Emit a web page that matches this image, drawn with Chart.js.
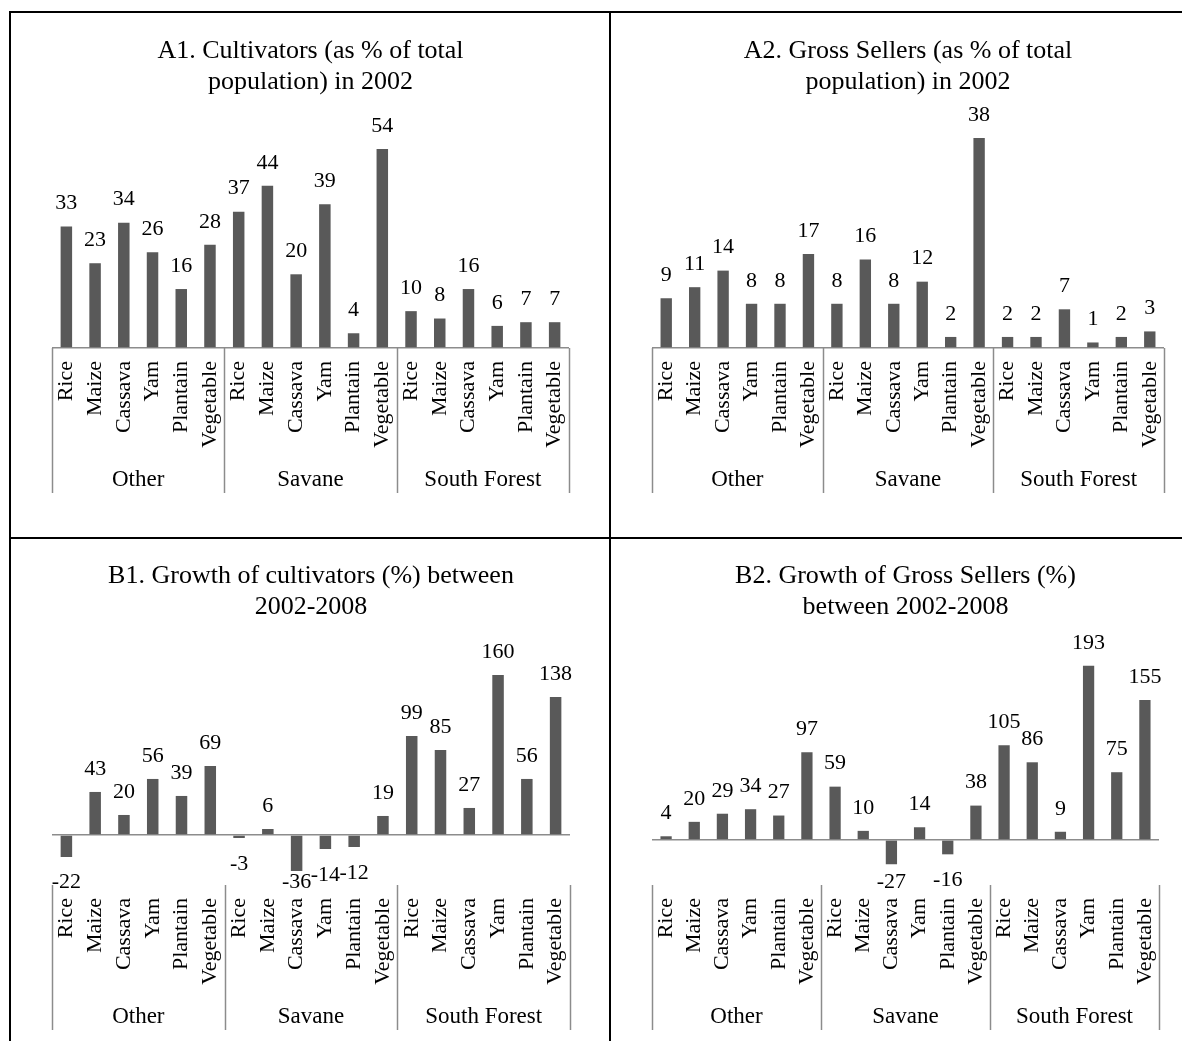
<!DOCTYPE html>
<html>
<head>
<meta charset="utf-8">
<script src="https://cdn.jsdelivr.net/npm/chart.js@4.4.1/dist/chart.umd.min.js"></script>
<style>
  html, body { margin: 0; padding: 0; background: #fff; }
  body { width: 1182px; height: 1041px; position: relative; overflow: hidden; }
  .rule { position: absolute; background: #000; }
  .panel { position: absolute; }
</style>
</head>
<body>
<div class="rule" style="left:9px;top:11px;width:2px;height:1030px"></div>
<div class="rule" style="left:9px;top:11px;width:1173px;height:2px"></div>
<div class="rule" style="left:609px;top:11px;width:2px;height:1030px"></div>
<div class="rule" style="left:9px;top:537px;width:1173px;height:2px"></div>

<div class="panel" style="left:11px;top:13px;width:598px;height:524px"><canvas id="chartA1"></canvas></div>
<div class="panel" style="left:611px;top:13px;width:571px;height:524px"><canvas id="chartA2"></canvas></div>
<div class="panel" style="left:11px;top:539px;width:598px;height:502px"><canvas id="chartB1"></canvas></div>
<div class="panel" style="left:611px;top:539px;width:571px;height:502px"><canvas id="chartB2"></canvas></div>

<script>
// Crops within each agro-ecological zone
const crops = ['Rice', 'Maize', 'Cassava', 'Yam', 'Plantain', 'Vegetable'];
const zones = ['Other', 'Savane', 'South Forest'];

// Values in zone order: Other, Savane, South Forest
const cultivatorsShare2002 = [33, 23, 34, 26, 16, 28, 37, 44, 20, 39, 4, 54, 10, 8, 16, 6, 7, 7];
const grossSellersShare2002 = [9, 11, 14, 8, 8, 17, 8, 16, 8, 12, 2, 38, 2, 2, 7, 1, 2, 3];
const cultivatorsGrowth = [-22, 43, 20, 56, 39, 69, -3, 6, -36, -14, -12, 19, 99, 85, 27, 160, 56, 138];
const grossSellersGrowth = [4, 20, 29, 34, 27, 97, 59, 10, -27, 14, -16, 38, 105, 86, 9, 193, 75, 155];

const titleA1 = ['A1. Cultivators (as % of total', 'population) in 2002'];
const titleA2 = ['A2. Gross Sellers (as % of total', 'population) in 2002'];
const titleB1 = ['B1. Growth of cultivators (%) between', '2002-2008'];
const titleB2 = ['B2. Growth of Gross Sellers (%)', 'between 2002-2008'];

const categoryLabels = zones.flatMap(() => crops);

const FONT = '"Liberation Serif", "Times New Roman", serif';
const BAR = '#595959';
const AXIS = '#8c8c8c';
const LABEL_BLOCK = 145;

Chart.defaults.font.family = FONT;
Chart.defaults.color = '#000';

// Value labels above positive bars and below negative ones
const valueLabels = {
  id: 'valueLabels',
  afterDatasetsDraw(chart) {
    const { ctx, chartArea } = chart;
    const meta = chart.getDatasetMeta(0);
    const values = chart.data.datasets[0].data;
    ctx.save();
    ctx.font = '22px ' + FONT;
    ctx.fillStyle = '#000';
    ctx.textAlign = 'center';
    ctx.textBaseline = 'middle';
    meta.data.forEach((bar, i) => {
      const v = values[i];
      const y = v >= 0 ? bar.y - 23 : Math.min(bar.y + 26, chartArea.bottom - 3);
      ctx.fillText(String(v), bar.x, y);
    });
    ctx.restore();
  }
};

// Second category level: zone separators and zone names under the crop labels
const zoneAxis = {
  id: 'zoneAxis',
  afterDraw(chart) {
    const { ctx, chartArea, scales } = chart;
    const x = scales.x;
    const n = chart.data.labels.length;
    const per = n / zones.length;
    const step = (x.right - x.left) / n;
    const top = chartArea.bottom;
    ctx.save();
    ctx.strokeStyle = AXIS;
    ctx.lineWidth = 1.5;
    for (let g = 0; g <= zones.length; g++) {
      const px = Math.round(x.left + g * per * step) + 0.5;
      ctx.beginPath();
      ctx.moveTo(px, top);
      ctx.lineTo(px, top + LABEL_BLOCK);
      ctx.stroke();
    }
    ctx.font = '23px ' + FONT;
    ctx.fillStyle = '#000';
    ctx.textAlign = 'center';
    ctx.textBaseline = 'middle';
    zones.forEach((z, g) => {
      const cx = x.left + (g + 0.5) * per * step;
      ctx.fillText(z, cx, top + 132);
    });
    ctx.restore();
  }
};

function makeChart(id, title, values, yMin, yMax, pad, titlePad) {
  return new Chart(document.getElementById(id), {
    type: 'bar',
    data: {
      labels: categoryLabels,
      datasets: [{
        data: values,
        backgroundColor: BAR,
        borderWidth: 0,
        barPercentage: 0.4,
        categoryPercentage: 1.0
      }]
    },
    options: {
      responsive: true,
      maintainAspectRatio: false,
      animation: false,
      layout: { padding: pad },
      plugins: {
        legend: { display: false },
        tooltip: { enabled: false },
        title: {
          display: true,
          text: title,
          color: '#000',
          font: { size: 26, weight: 'normal', lineHeight: 1.19 },
          padding: titlePad
        }
      },
      scales: {
        x: {
          grid: { display: false, drawTicks: false },
          border: { display: false },
          ticks: {
            autoSkip: false,
            minRotation: 90,
            maxRotation: 90,
            padding: 13,
            font: { size: 22 },
            color: '#000'
          },
          afterFit(scale) {
            scale.height = LABEL_BLOCK;
            scale.paddingLeft = 0;
            scale.paddingRight = 0;
          }
        },
        y: {
          min: yMin,
          max: yMax,
          border: { display: false },
          ticks: { display: false },
          grid: {
            drawTicks: false,
            lineWidth: 1.5,
            color: (ctx) => (ctx.tick && ctx.tick.value === 0 ? AXIS : 'rgba(0,0,0,0)')
          },
          afterFit(scale) {
            scale.width = 0;
            scale.paddingTop = 0;
            scale.paddingBottom = 0;
          }
        }
      }
    },
    plugins: [valueLabels, zoneAxis]
  });
}

makeChart('chartA1', titleA1, cultivatorsShare2002, 0, 60,
  { left: 41, right: 40, top: 0, bottom: 44 }, { top: 22.5, bottom: 29.5 });
makeChart('chartA2', titleA2, grossSellersShare2002, 0, 40,
  { left: 41, right: 18, top: 0, bottom: 44 }, { top: 22.5, bottom: 29.5 });
makeChart('chartB1', titleB1, cultivatorsGrowth, -50, 200,
  { left: 41, right: 39, top: 0, bottom: 11 }, { top: 21.5, bottom: 12.5 });
makeChart('chartB2', titleB2, grossSellersGrowth, -50, 225,
  { left: 41, right: 23, top: 0, bottom: 11 }, { top: 21.5, bottom: 14.5 });
</script>
</body>
</html>
